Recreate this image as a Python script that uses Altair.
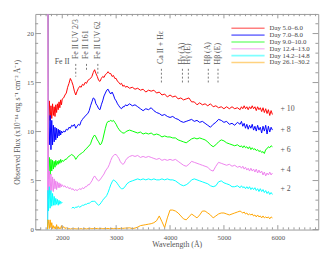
import altair as alt
import pandas as pd

# ---------------- data (wavelength grid in Angstrom, fluxes before offset) ----------------
WAVE = [1725, 1735, 1745, 1760, 1775, 1790, 1805, 1820, 1835, 1850, 1865, 1880, 1895, 1910, 1925, 1940, 1955, 1970, 1985,
        2000, 2025, 2050, 2075, 2100, 2125, 2150, 2175, 2200, 2225, 2250, 2275, 2300, 2325, 2350, 2375, 2400, 2425,
        2450, 2475, 2500, 2525, 2550, 2575, 2600, 2625, 2650, 2675, 2700, 2725, 2750, 2775, 2800, 2825, 2850, 2875,
        2900, 2925, 2950, 2975, 3000, 3025, 3050, 3075, 3100, 3125, 3150, 3175, 3200,
        3250, 3300, 3350, 3400, 3450, 3500, 3550, 3600, 3650, 3700, 3750, 3800, 3850, 3900, 3950, 4000, 4050, 4100,
        4150, 4200, 4250, 4300, 4350, 4400, 4450, 4500, 4550, 4600, 4650, 4700, 4750, 4800, 4850, 4900, 4950, 5000,
        5050, 5100, 5150, 5200, 5250, 5300,
        5325, 5350, 5375, 5400, 5425, 5450, 5475, 5500, 5525, 5550, 5575, 5600, 5625, 5650, 5675, 5700, 5725, 5750,
        5775, 5800, 5825, 5850, 5875, 5900]

FLUX_D5 = [30, 20, 0.64, 3.13, 1.14, 2.63, 1.34, 2.83, 1.64, 2.53, 1.54, 2.73, 1.94, 2.83, 2.23, 3.03, 2.43, 3.23, 2.73,
           3.33, 3.43, 3.73, 3.93, 4.52, 4.92, 5.42, 5.12, 4.72, 4.12, 3.73, 4.12, 4.42, 4.62, 4.52, 4.82, 4.72, 5.02,
           4.92, 5.22, 5.32, 5.42, 5.62, 6.02, 6.31, 5.92, 5.62, 5.22, 5.12, 5.42, 5.62, 5.52, 5.82, 5.92, 6.11, 5.92,
           5.92, 5.62, 5.72, 5.42, 5.42, 5.12, 5.02, 4.82, 4.92, 4.62, 4.72, 4.52, 4.62,
           4.42, 4.52, 4.32, 4.42, 4.22, 4.32, 4.03, 4.22, 4.12, 4.22, 3.93, 4.03, 3.73, 3.83, 3.53, 3.73, 3.53, 3.63,
           3.33, 3.43, 3.23, 3.33, 3.43, 3.03, 3.03, 2.73, 2.93, 2.73, 2.83, 2.63, 2.83, 2.53, 2.63, 2.43, 2.53, 2.33,
           2.53, 2.33, 2.53, 2.33, 2.43, 2.23,
           2.53, 2.33, 2.63, 2.33, 2.53, 2.23, 2.53, 2.33, 2.63, 2.33, 2.53, 2.14, 2.53, 2.23, 2.43, 2.04, 2.43, 1.94,
           2.33, 1.84, 2.23, 1.64, 2.14, 1.74]

FLUX_D7 = [30, 20, 4.63, 0.65, 3.64, 0.15, 3.14, 0.65, 2.64, 0.95, 2.44, 1.15, 2.34, 1.35, 2.24, 1.55, 2.15, 1.65, 2.05,
           1.85, 2.05, 1.95, 2.24, 2.15, 2.44, 2.34, 2.64, 2.54, 2.74, 2.34, 2.54, 2.74, 2.64, 3.04, 3.24, 3.44, 3.54,
           3.74, 3.84, 4.13, 4.63, 5.03, 5.43, 5.33, 4.83, 4.63, 4.33, 4.23, 4.73, 5.13, 5.63, 5.93, 6.22, 6.32, 6.03,
           5.83, 6.03, 5.73, 5.33, 5.13, 4.83, 4.63, 4.43, 4.33, 4.53, 4.53, 4.73, 4.63,
           4.83, 4.63, 4.73, 4.53, 4.33, 4.13, 4.33, 4.23, 4.43, 4.13, 3.94, 3.84, 3.64, 3.74, 3.54, 3.44, 3.54, 3.34,
           3.24, 3.04, 2.94, 3.04, 3.14, 3.24, 3.04, 3.14, 2.94, 3.04, 2.84, 2.64, 2.44, 2.74, 2.94, 3.24, 3.14, 2.94,
           3.04, 2.74, 2.84, 2.64, 2.94, 2.74,
           3.04, 2.54, 2.84, 2.34, 2.74, 2.24, 2.64, 2.34, 2.74, 2.15, 2.54, 2.05, 2.64, 2.15, 2.44, 1.85, 2.54, 2.05,
           2.64, 1.75, 2.54, 1.95, 2.44, 2.15]

FLUX_D9 = [30, 20, -0.83, 1.36, -0.43, 1.16, -0.03, 1.06, 0.17, 0.96, 0.36, 1.06, 0.56, 0.96, 0.66, 1.06, 0.76, 1.16, 0.86,
           1.06, 0.96, 1.16, 1.16, 1.36, 1.46, 1.56, 1.66, 1.56, 1.46, 1.16, 1.36, 1.56, 1.66, 1.76, 1.86, 1.96, 2.16,
           2.25, 2.45, 2.55, 2.75, 3.15, 3.45, 3.65, 3.45, 3.15, 2.95, 2.65, 2.75, 3.15, 3.75, 4.34, 4.84, 5.04, 5.04,
           5.14, 5.04, 5.14, 4.94, 4.74, 4.44, 4.24, 4.05, 3.95, 3.85, 3.85, 3.95, 4.05,
           4.15, 4.05, 3.95, 3.85, 3.95, 3.75, 3.85, 3.75, 3.85, 3.65, 3.75, 3.65, 3.45, 3.55, 3.45, 3.45, 3.35, 3.35,
           3.15, 3.05, 2.95, 2.85, 3.05, 3.25, 3.35, 3.25, 3.35, 3.25, 3.15, 2.95, 2.65, 2.45, 2.65, 2.95, 3.15, 3.05,
           2.85, 2.75, 2.65, 2.55, 2.65, 2.45,
           2.55, 2.35, 2.55, 2.35, 2.45, 2.25, 2.45, 2.16, 2.35, 2.16, 2.25, 2.06, 2.16, 1.96, 2.06, 1.86, 1.96, 1.76,
           2.16, 2.25, 2.45, 2.35, 2.55, 2.45]

FLUX_D12 = [-10, 30, -0.82, 1.97, -0.42, 1.67, -0.02, 1.37, -0.12, 1.17, 0.17, 0.97, 0.08, 0.87, 0.27, 0.77, 0.27, 0.67, 0.37,
            0.57, 0.37, 0.47, 0.27, 0.37, 0.17, 0.27, 0.08, 0.17, -0.02, 0.08, -0.02, 0.08, 0.17, 0.08, 0.27, 0.17, 0.37,
            0.37, 0.57, 0.57, 0.77, 0.97, 1.27, 1.47, 1.27, 1.07, 0.97, 1.07, 1.27, 1.47, 1.67, 1.97, 2.17, 2.36, 2.66,
            3.06, 3.36, 3.56, 3.66, 3.66, 3.46, 3.26, 2.96, 2.76, 2.66, 2.76, 3.06, 3.26,
            3.46, 3.56, 3.46, 3.56, 3.36, 3.46, 3.36, 3.46, 3.36, 3.26, 3.16, 3.26, 3.06, 3.16, 3.06, 3.16, 3.06, 3.16,
            2.96, 2.76, 2.56, 2.46, 2.66, 2.96, 2.86, 2.76, 2.66, 2.56, 2.46, 2.36, 2.07, 1.97, 2.46, 2.86, 2.76, 2.66,
            2.56, 2.66, 2.46, 2.56, 2.36, 2.46,
            2.26, 2.46, 2.17, 2.36, 2.07, 2.26, 1.97, 2.26, 1.97, 2.17, 1.87, 2.17, 1.77, 2.07, 1.77, 1.97, 1.57, 1.87,
            1.47, 1.77, 1.57, 1.87, 1.57, 1.77]

FLUX_D14 = [-5, 2, -0.11, 2.37, 0.18, 1.98, 0.38, 1.68, 0.48, 1.38, 0.48, 1.18, 0.58, 1.08, 0.48, 0.98, 0.58, 0.88, 0.68,
            0.78, None, None, None, None, None, None, 0.18, 0.28, 0.18, 0.28, 0.28, 0.38, 0.28, 0.38, 0.48, 0.48, 0.58,
            0.58, 0.68, 0.68, 0.78, 0.88, 0.88, 0.88, 0.78, 0.58, 0.48, 0.58, 0.78, 0.98, 1.18, 1.28, 1.48, 1.78, 2.17,
            2.57, 2.87, 3.07, 2.97, 2.87, 2.67, 2.47, 2.27, 2.17, 2.17, 2.27, 2.47, 2.67,
            2.87, 2.97, 3.07, 3.17, 3.07, 3.17, 3.07, 3.17, 3.07, 3.17, 3.07, 3.07, 3.17, 3.07, 3.17, 3.07, 3.07, 2.97,
            2.77, 2.57, 2.47, 2.57, 2.77, 3.07, 3.17, 3.07, 2.97, 2.87, 2.77, 2.67, 2.47, 2.37, 2.47, 2.87, 2.97, 2.77,
            2.67, 2.57, 2.37, 2.37, 2.47, 2.27,
            2.47, 2.27, 2.37, 2.17, 2.37, 2.17, 2.37, 2.08, 2.27, 2.08, 2.27, 1.98, 2.17, 1.88, 2.17, 1.88, 2.08, 1.78,
            1.98, 1.68, 1.88, 1.58, 1.78, 1.58]

FLUX_D26 = [0.0, 1.0, 0.80, 0.10, 0.99, 0.20, 0.70, 0.10, 0.40, 0.10, 0.30, 0.05, 0.50, 0.10, 0.30, 0.05, 0.20, 0.10, 0.40,
            0.10, 0.30, 0.10, 0.20, 0.05, 0.10, 0.05, 0.10, 0.05, 0.10, 0.08, 0.05, 0.10, 0.06, 0.10, 0.05, 0.08, 0.10,
            0.06, 0.10, 0.08, 0.12, 0.08, 0.10, 0.15, 0.10, 0.12, 0.08, 0.10, 0.12, 0.10, 0.08, 0.12, 0.10, 0.12, 0.08,
            0.10, 0.12, 0.10, 0.12, 0.10, 0.12, 0.10, 0.12, 0.14, 0.12, 0.14, 0.15, 0.15,
            0.18, 0.10, 0.15, 0.25, 0.40, 0.45, 0.50, 0.55, 0.60, 0.70, 0.90, 1.39, 0.80, 0.20, 1.19, 1.99, 1.99, 1.89,
            1.69, 1.39, 1.09, 0.99, 1.29, 1.59, 1.39, 1.19, 1.49, 1.89, 1.89, 1.69, 1.49, 1.19, 1.39, 1.59, 1.69, 1.69,
            1.59, 1.49, 1.59, 1.69, 1.79, 1.89,
            1.79, 1.69, 1.79, 1.59, 1.69, 1.49, 1.59, 1.49, 1.59, 1.39, 1.49, 1.29, 1.49, 1.29, 1.39, 1.19, 1.39, 1.19,
            1.29, 1.19, 1.29, 1.09, 1.29, 1.19]

SERIES = ["Day 5.0–6.0", "Day 7.0–8.0", "Day 9.0–10.0", "Day 12.4–13.0", "Day 14.2–14.8", "Day 26.1–30.2"]
OFFSETS = [10, 8, 6, 4, 2, 0]
COLORS = ["#ff0000", "#0000ff", "#00ff00", "#ee82ee", "#00ffff", "#ffa500"]
FLUXES = [FLUX_D5, FLUX_D7, FLUX_D9, FLUX_D12, FLUX_D14, FLUX_D26]

OFFSET_TEXT = ["+ 10", "+ 8", "+ 6", "+ 4", "+ 2"]
OFFSET_TEXT_WAVE = 6050
OFFSET_TEXT_Y = [12.25, 10.15, 8.15, 6.1, 4.1]

LINE_LABELS = ["Fe II UV 2/3", "Fe II 161", "Fe II UV 62", "Ca II + Hε", "Hγ (A)", "Hγ (E)", "Hβ (A)", "Hβ (E)"]
LINE_WAVES = [2250, 2450, 2660, 3840, 4230, 4340, 4710, 4890]
LINE_TEXT_Y = [17.4, 17.4, 17.4, 16.9, 16.85, 16.85, 16.85, 16.85]
DASH_TOP = [16.9, 16.9, 16.9, 16.4, 16.4, 16.4, 16.4, 16.4]
DASH_BOTTOM = [15.6, 16.1, 15.9, 15.0, 15.0, 15.0, 15.0, 15.0]
FE_LABEL = "Fe II"
FE_LABEL_WAVE = 1860
FE_LABEL_Y = 17.1

X_MAJOR = [2000, 3000, 4000, 5000, 6000]
X_MINOR = [w for w in range(1600, 6800, 100) if w % 1000 != 0]
Y_MAJOR = [0, 5, 10, 15, 20]
Y_MINOR = [v for v in range(1, 22) if v % 5 != 0]

# ---------------- build tables ----------------
rows = []
for name, off, vals in zip(SERIES, OFFSETS, FLUXES):
    assert len(vals) == len(WAVE), (name, len(vals), len(WAVE))
    seg = 0
    for w, v in zip(WAVE, vals):
        if v is None:
            seg += 1
            continue
        rows.append({"wave": w, "flux": v, "offset": off, "series": name, "seg": f"{name}/{seg}"})
spec = pd.DataFrame(rows)

lines_df = pd.DataFrame({"wave": LINE_WAVES, "label": LINE_LABELS, "ty": LINE_TEXT_Y,
                         "top": DASH_TOP, "bottom": DASH_BOTTOM})
off_df = pd.DataFrame({"wave": [OFFSET_TEXT_WAVE] * len(OFFSET_TEXT), "y": OFFSET_TEXT_Y, "label": OFFSET_TEXT})
fe_df = pd.DataFrame({"wave": [FE_LABEL_WAVE], "y": [FE_LABEL_Y], "label": [FE_LABEL]})
leg_df = pd.DataFrame({"series": SERIES})

# ---------------- styling ----------------
W, H = 290, 221
FONT = "Liberation Serif"
GRAY = "#555555"
FRAME = "#999999"

xscale = alt.Scale(domain=[1500, 6750], nice=False, zero=False)
yscale = alt.Scale(domain=[0, 22], nice=False, zero=False)
cscale = alt.Scale(domain=SERIES, range=COLORS)

AX_X = alt.Axis(values=X_MAJOR, format="d", ticks=False, domain=False, grid=False,
                labelPadding=4, title="Wavelength (Å)", titlePadding=0)
AX_Y = alt.Axis(values=Y_MAJOR, format="d", ticks=False, domain=False, grid=False,
                labelPadding=2, title="Observed Flux (x10⁻¹⁴ erg s⁻¹ cm⁻² Å⁻¹)", titlePadding=5)


def X(field):
    return alt.X(field, scale=xscale, axis=AX_X)


def Y(field):
    return alt.Y(field, scale=yscale, axis=AX_Y)


def xticks(vals, length):
    base = alt.Chart(pd.DataFrame({"v": vals})).mark_rule(color=FRAME, strokeWidth=1)
    return [base.encode(x=X("v:Q"), y=alt.value(0), y2=alt.value(length)),
            base.encode(x=X("v:Q"), y=alt.value(H), y2=alt.value(H - length))]


def yticks(vals, length):
    base = alt.Chart(pd.DataFrame({"v": vals})).mark_rule(color=FRAME, strokeWidth=1)
    return [base.encode(y=Y("v:Q"), x=alt.value(0), x2=alt.value(length)),
            base.encode(y=Y("v:Q"), x=alt.value(W), x2=alt.value(W - length))]


spectra = alt.Chart(spec).transform_calculate(
    plotted="datum.flux + datum.offset"
).mark_line(strokeWidth=1, clip=True).encode(
    x=X("wave:Q"),
    y=Y("plotted:Q"),
    color=alt.Color("series:N", scale=cscale, legend=None),
    detail="seg:N",
)

tick_layers = xticks(X_MAJOR, 4.5) + xticks(X_MINOR, 2.3) + yticks(Y_MAJOR, 5.8) + yticks(Y_MINOR, 2.9)

dashes = alt.Chart(lines_df).mark_rule(color=GRAY, strokeWidth=0.8, strokeDash=[2, 2]).encode(
    x=X("wave:Q"), y=Y("top:Q"), y2="bottom:Q",
)
line_text = alt.Chart(lines_df).mark_text(angle=270, align="left", baseline="middle",
                                          font=FONT, fontSize=8, color=GRAY).encode(
    x=X("wave:Q"), y=Y("ty:Q"), text="label:N",
)
fe_text = alt.Chart(fe_df).mark_text(align="left", baseline="middle", font=FONT, fontSize=8, color=GRAY).encode(
    x=X("wave:Q"), y=Y("y:Q"), text="label:N",
)
off_text = alt.Chart(off_df).mark_text(align="left", baseline="middle", font=FONT, fontSize=8, color=GRAY).encode(
    x=X("wave:Q"), y=Y("y:Q"), text="label:N",
)

main = alt.layer(spectra, *tick_layers, dashes, line_text, fe_text, off_text)

leg_y = alt.Y("series:N", scale=alt.Scale(type="point", domain=SERIES, range=[14.7, 49.7], padding=0), axis=None)
leg_rules = alt.Chart(leg_df).mark_rule(strokeWidth=1.6, opacity=0.5).encode(
    x=alt.value(201), x2=alt.value(235), y=leg_y,
    color=alt.Color("series:N", scale=cscale, legend=None),
)
leg_text = alt.Chart(leg_df).mark_text(align="left", baseline="middle", font=FONT, fontSize=7, color="#444444").encode(
    x=alt.value(240), y=leg_y, text="series:N",
)
legend = alt.layer(leg_rules, leg_text)

chart = alt.layer(main, legend).resolve_scale(y="independent").properties(
    width=W, height=H,
    padding={"left": 28, "top": 3, "right": 10, "bottom": 24},
    autosize=alt.AutoSizeParams(type="none"),
).configure_view(stroke=FRAME, strokeWidth=1).configure_axis(
    labelFont=FONT, labelFontSize=7, labelColor=GRAY,
    titleFont=FONT, titleFontSize=8, titleFontWeight="normal", titleColor=GRAY,
)

chart.save("out.html", embed_options={"renderer": "svg", "actions": False})
